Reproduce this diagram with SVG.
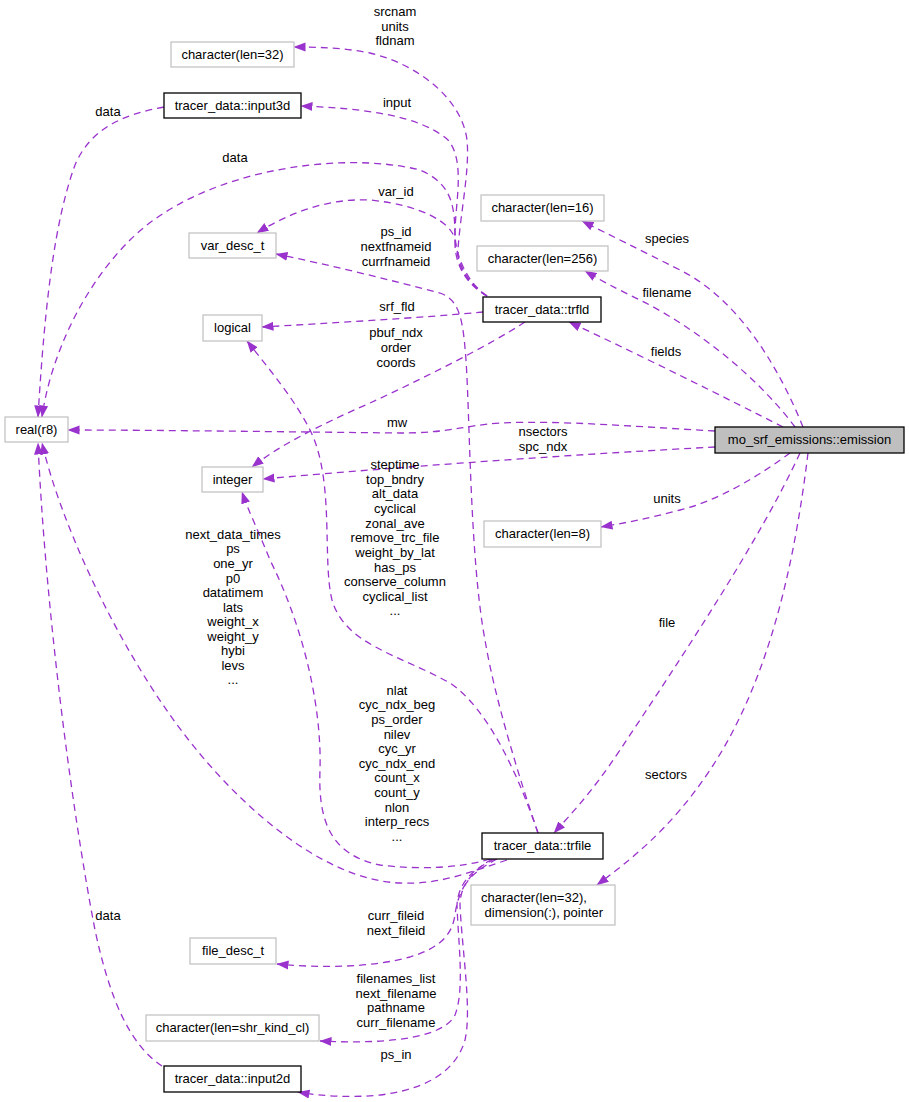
<svg xmlns="http://www.w3.org/2000/svg" width="909" height="1102" viewBox="0 0 909 1102">
<style>
text{font-family:"Liberation Sans",Arial,sans-serif;font-size:13px;fill:#000;text-anchor:middle}
.n rect{fill:#fff;stroke:#bfbfbf;stroke-width:1.2}
.d rect{fill:#fff;stroke:#000;stroke-width:1.3}
.m rect{fill:#bfbfbf;stroke:#000;stroke-width:1.3}
#edges path{fill:none;stroke:#9a32cd;stroke-width:1.3;stroke-dasharray:7,5;marker-end:url(#ah)}
</style>
<defs>
<marker id="ah" markerWidth="12" markerHeight="10" refX="11.5" refY="5" orient="auto" markerUnits="userSpaceOnUse">
<path d="M0,0.5 L12,5 L0,9.5 z" fill="#9a32cd" stroke="none"/>
</marker>
</defs>
<rect width="909" height="1102" fill="#fff"/>

<g id="edges">
<path d="M487,296 C470,285 457,270 458,250 C460,215 470,170 467,140 C462,100 420,65 370,53 C345,48 320,47 294,47"/>
<path d="M487,296 C465,282 455,260 455,230 C456,200 465,160 448,140 C420,115 360,108 301,106"/>
<path d="M487,296 C465,283 456,265 455,245 C455,210 455,185 420,170 C340,150 200,170 130,240 C80,290 50,360 42,417"/>
<path d="M164,107 C120,115 90,130 75,165 C55,220 45,300 38,417"/>
<path d="M487,296 C468,283 458,260 455,240 C452,222 420,205 370,200 C330,198 290,212 257,233"/>
<path d="M538,833 C520,780 495,700 485,640 C470,560 470,420 466,360 C463,320 460,300 440,293 C390,280 330,265 276,254"/>
<path d="M483,312 C420,318 330,323 262,327"/>
<path d="M525,322 C490,345 420,380 370,403 C320,425 280,445 252,467"/>
<path d="M715,431 C640,427 560,420 500,423 C460,426 450,433 400,433 C300,432 150,430 68,430"/>
<path d="M715,447 C600,453 420,465 263,479"/>
<path d="M803,427 C780,370 740,300 680,270 C640,250 610,235 582,221"/>
<path d="M795,427 C760,380 700,330 640,300 C615,288 600,280 585,271"/>
<path d="M783,427 C730,400 640,355 569,322"/>
<path d="M790,453 C760,475 720,500 680,510 C650,518 625,523 601,527"/>
<path d="M800,453 C760,540 680,660 620,750 C590,795 570,815 554,833"/>
<path d="M808,453 C795,560 770,680 710,770 C670,830 630,860 597,885"/>
<path d="M507,860 C470,872 440,885 400,883 C320,880 230,800 170,715 C110,630 60,520 42,443"/>
<path d="M490,859 C460,868 420,870 380,865 C330,855 318,820 320,770 C322,700 300,620 270,560 C258,530 248,510 242,492"/>
<path d="M538,833 C520,780 490,710 450,683 C400,655 345,645 332,600 C322,560 335,480 310,430 C295,400 270,370 247,341"/>
<path d="M492,859 C470,872 458,890 455,915 C452,935 440,948 410,957 C370,968 320,968 277,964"/>
<path d="M495,859 C470,870 458,885 457,905 C458,940 465,990 455,1015 C445,1035 400,1045 320,1041"/>
<path d="M497,859 C472,872 460,885 460,905 C462,950 472,1010 465,1040 C455,1075 420,1090 380,1095 C350,1098 320,1096 298,1092"/>
<path d="M162,1066 C130,1045 110,1000 95,930 C70,800 45,600 38,443"/>
</g>

<g id="edge-labels">
<text x="395" y="16">srcnam</text>
<text x="395" y="31">units</text>
<text x="395" y="45">fldnam</text>
<text x="397" y="107">input</text>
<text x="108" y="116">data</text>
<text x="235" y="162">data</text>
<text x="396" y="196">var_id</text>
<text x="396" y="236">ps_id</text>
<text x="396" y="251">nextfnameid</text>
<text x="396" y="266">currfnameid</text>
<text x="397" y="311">srf_fld</text>
<text x="396" y="337">pbuf_ndx</text>
<text x="396" y="352">order</text>
<text x="396" y="367">coords</text>
<text x="397" y="427">mw</text>
<text x="543" y="436">nsectors</text>
<text x="543" y="451">spc_ndx</text>
<text x="395" y="469">steptime</text>
<text x="395" y="484">top_bndry</text>
<text x="395" y="498">alt_data</text>
<text x="395" y="513">cyclical</text>
<text x="395" y="528">zonal_ave</text>
<text x="395" y="542">remove_trc_file</text>
<text x="395" y="557">weight_by_lat</text>
<text x="395" y="572">has_ps</text>
<text x="395" y="586">conserve_column</text>
<text x="395" y="601">cyclical_list</text>
<text x="395" y="615">...</text>
<text x="233" y="539">next_data_times</text>
<text x="233" y="553">ps</text>
<text x="233" y="568">one_yr</text>
<text x="233" y="583">p0</text>
<text x="233" y="597">datatimem</text>
<text x="233" y="612">lats</text>
<text x="233" y="626">weight_x</text>
<text x="233" y="641">weight_y</text>
<text x="233" y="655">hybi</text>
<text x="233" y="670">levs</text>
<text x="233" y="684">...</text>
<text x="667" y="243">species</text>
<text x="667" y="297">filename</text>
<text x="666" y="356">fields</text>
<text x="667" y="503">units</text>
<text x="667" y="627">file</text>
<text x="666" y="779">sectors</text>
<text x="397" y="695">nlat</text>
<text x="397" y="709">cyc_ndx_beg</text>
<text x="397" y="724">ps_order</text>
<text x="397" y="739">nilev</text>
<text x="397" y="753">cyc_yr</text>
<text x="397" y="768">cyc_ndx_end</text>
<text x="397" y="782">count_x</text>
<text x="397" y="797">count_y</text>
<text x="397" y="812">nlon</text>
<text x="397" y="826">interp_recs</text>
<text x="397" y="841">...</text>
<text x="396" y="920">curr_fileid</text>
<text x="396" y="935">next_fileid</text>
<text x="396" y="983">filenames_list</text>
<text x="396" y="998">next_filename</text>
<text x="396" y="1012">pathname</text>
<text x="396" y="1027">curr_filename</text>
<text x="396" y="1059">ps_in</text>
<text x="108" y="920">data</text>
</g>

<g id="node-char32" class="n"><rect x="171" y="42" width="123" height="25"/><text x="232.5" y="59">character(len=32)</text></g>
<g id="node-input3d" class="d"><rect x="164" y="93" width="137" height="25"/><text x="232.5" y="110">tracer_data::input3d</text></g>
<g id="node-var_desc_t" class="n"><rect x="189" y="233" width="87" height="25"/><text x="232.5" y="250">var_desc_t</text></g>
<g id="node-char16" class="n"><rect x="481" y="195" width="123" height="26"/><text x="542.5" y="212">character(len=16)</text></g>
<g id="node-char256" class="n"><rect x="477" y="246" width="131" height="25"/><text x="542.5" y="263">character(len=256)</text></g>
<g id="node-trfld" class="d"><rect x="483" y="297" width="118" height="25"/><text x="542" y="314">tracer_data::trfld</text></g>
<g id="node-logical" class="n"><rect x="203" y="315" width="59" height="26"/><text x="232.5" y="332">logical</text></g>
<g id="node-real" class="n"><rect x="5" y="417" width="63" height="25"/><text x="36.5" y="434">real(r8)</text></g>
<g id="node-emission" class="m"><rect x="715" y="427" width="189" height="26"/><text x="809.5" y="444">mo_srf_emissions::emission</text></g>
<g id="node-integer" class="n"><rect x="202" y="467" width="61" height="25"/><text x="232.5" y="484">integer</text></g>
<g id="node-char8" class="n"><rect x="484" y="521" width="117" height="26"/><text x="542.5" y="538">character(len=8)</text></g>
<g id="node-trfile" class="d"><rect x="482" y="833" width="121" height="26"/><text x="542.5" y="850">tracer_data::trfile</text></g>
<g id="node-char32ptr" class="n"><rect x="471" y="885" width="144" height="40"/><text x="481" y="902" style="text-anchor:start">character(len=32),</text><text x="481" y="917" style="text-anchor:start" xml:space="preserve"> dimension(:), pointer</text></g>
<g id="node-file_desc_t" class="n"><rect x="190" y="938" width="86" height="26"/><text x="233" y="955">file_desc_t</text></g>
<g id="node-charcl" class="n"><rect x="146" y="1015" width="173" height="26"/><text x="232.5" y="1032">character(len=shr_kind_cl)</text></g>
<g id="node-input2d" class="d"><rect x="164" y="1066" width="137" height="26"/><text x="232.5" y="1083">tracer_data::input2d</text></g>
</svg>
